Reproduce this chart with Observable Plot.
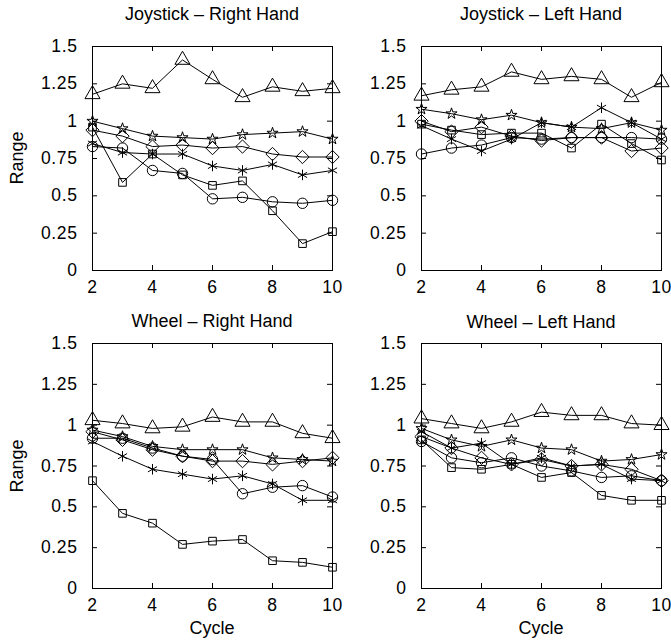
<!DOCTYPE html>
<html>
<head>
<meta charset="utf-8">
<script src="https://cdn.jsdelivr.net/npm/d3@7"></script>
<script src="https://cdn.jsdelivr.net/npm/@observablehq/plot@0.6"></script>
<style>
  html, body { margin: 0; padding: 0; background: white; }
  #chart { position: relative; width: 671px; height: 643px; background: white; overflow: hidden;
           font-family: "Liberation Sans", Arial, sans-serif; color: black; }
  .panel { position: absolute; }
  .panel svg { max-width: none !important; overflow: visible; background: transparent; }
  .lbl { position: absolute; font-size: 18px; white-space: nowrap; line-height: 22px; }
</style>
</head>
<body>
<div id="chart"></div>
<script>
// ---- data ----
const cycles = [2, 3, 4, 5, 6, 7, 8, 9, 10];
const seriesSymbols = ["triangle", "star", "diamond2", "asterisk", "circle", "square"];
const symbolRadius = [5.6, 3.5, 6, 5, 5.2, 4.3];
const xTicks = [2, 4, 6, 8, 10];
const yTicks = [0, 0.25, 0.5, 0.75, 1, 1.25, 1.5];
const panelTitles = ["Joystick \u2013 Right Hand", "Joystick \u2013 Left Hand", "Wheel \u2013 Right Hand", "Wheel \u2013 Left Hand"];

// series order: triangle, star, diamond, asterisk, circle, square
const joystickRight = [
  [1.18, 1.25, 1.22, 1.41, 1.28, 1.16, 1.23, 1.20, 1.22],
  [1.00, 0.95, 0.90, 0.89, 0.88, 0.91, 0.92, 0.93, 0.88],
  [0.94, 0.90, 0.83, 0.84, 0.82, 0.83, 0.78, 0.76, 0.76],
  [0.85, 0.79, 0.78, 0.78, 0.70, 0.67, 0.71, 0.64, 0.67],
  [0.83, 0.82, 0.67, 0.65, 0.48, 0.49, 0.46, 0.45, 0.47],
  [0.96, 0.59, 0.78, 0.64, 0.57, 0.60, 0.40, 0.18, 0.26]
];
const joystickLeft = [
  [1.17, 1.21, 1.23, 1.33, 1.28, 1.30, 1.28, 1.16, 1.26],
  [1.08, 1.05, 1.01, 1.04, 0.99, 0.96, 0.95, 0.99, 0.94],
  [1.00, 0.93, 0.96, 0.90, 0.87, 0.89, 0.89, 0.80, 0.82],
  [0.97, 0.88, 0.80, 0.88, 0.99, 0.96, 1.09, 0.99, 0.88],
  [0.78, 0.82, 0.84, 0.89, 0.88, 0.89, 0.89, 0.89, 0.88],
  [0.98, 0.94, 0.91, 0.92, 0.92, 0.82, 0.98, 0.85, 0.74]
];
const wheelRight = [
  [1.03, 1.01, 0.98, 0.99, 1.05, 1.02, 1.02, 0.95, 0.92],
  [0.97, 0.93, 0.87, 0.85, 0.85, 0.85, 0.80, 0.79, 0.78],
  [0.96, 0.91, 0.85, 0.81, 0.78, 0.78, 0.76, 0.78, 0.80],
  [0.90, 0.81, 0.73, 0.70, 0.67, 0.69, 0.64, 0.54, 0.54],
  [0.92, 0.92, 0.86, 0.81, 0.79, 0.58, 0.62, 0.63, 0.56],
  [0.66, 0.46, 0.40, 0.27, 0.29, 0.30, 0.17, 0.16, 0.13]
];
const wheelLeft = [
  [1.04, 1.01, 0.98, 1.02, 1.08, 1.06, 1.06, 1.01, 1.00],
  [0.98, 0.91, 0.87, 0.91, 0.86, 0.85, 0.78, 0.79, 0.82],
  [0.93, 0.86, 0.80, 0.76, 0.79, 0.75, 0.76, 0.73, 0.66],
  [0.96, 0.86, 0.89, 0.76, 0.80, 0.75, 0.76, 0.67, 0.66],
  [0.90, 0.80, 0.77, 0.80, 0.75, 0.72, 0.68, 0.69, 0.66],
  [0.91, 0.74, 0.73, 0.76, 0.68, 0.71, 0.57, 0.54, 0.54]
];

// ---- layout ----
const chart = document.getElementById("chart");
const FW = 240;
const panels = [
  {data: joystickRight, title: panelTitles[0], left: 0,   top: 0,   W: 345, H: 300, mL: 92, mR: 13, mT: 46, mB: 30, tOff: 43},
  {data: joystickLeft,  title: panelTitles[1], left: 335, top: 0,   W: 336, H: 300, mL: 86, mR: 10, mT: 46, mB: 30, tOff: 43},
  {data: wheelRight,    title: panelTitles[2], left: 0,   top: 300, W: 345, H: 343, mL: 92, mR: 13, mT: 43, mB: 55, tOff: 33},
  {data: wheelLeft,     title: panelTitles[3], left: 335, top: 300, W: 336, H: 343, mL: 86, mR: 10, mT: 43, mB: 55, tOff: 32}
];

function rows(data) {
  const out = [];
  data.forEach((vals, s) => vals.forEach((v, i) => out.push({series: s, symbol: seriesSymbols[s], size: symbolRadius[s], cycle: cycles[i], value: v})));
  return out;
}

panels.forEach((p, k) => {
  const FH = p.H - p.mT - p.mB;
  const table = rows(p.data);
  const plot = Plot.plot({
    width: p.W, height: p.H,
    marginLeft: p.mL, marginRight: p.mR, marginTop: p.mT, marginBottom: p.mB,
    style: {fontFamily: "'Liberation Sans', Arial, sans-serif", fontSize: "17.5px", letterSpacing: "0.6px", color: "black", background: "transparent", overflow: "visible"},
    x: {domain: [2, 10], ticks: xTicks},
    y: {domain: [0, 1.5]},
    r: {type: "identity"},
    symbol: {domain: seriesSymbols, range: seriesSymbols},
    marks: [
      Plot.frame({stroke: "black", strokeWidth: 1}),
      Plot.axisX(xTicks, {tickSize: 0, tickPadding: 10, tickFormat: d => String(d), label: null, fill: "black"}),
      Plot.axisY(yTicks, {tickSize: 0, tickPadding: 15, tickFormat: d => String(d), label: null, fill: "black"}),
      Plot.tickX(xTicks, {x: d => d, insetTop: FH - 5, stroke: "black"}),
      Plot.tickX(xTicks, {x: d => d, insetBottom: FH - 5, stroke: "black"}),
      Plot.tickY(yTicks, {y: d => d, insetRight: FW - 5, stroke: "black"}),
      Plot.tickY(yTicks, {y: d => d, insetLeft: FW - 5, stroke: "black"}),
      Plot.line(table, {x: "cycle", y: "value", z: "series", stroke: "black", strokeWidth: 1}),
      Plot.dot(table, {x: "cycle", y: "value", symbol: "symbol", r: "size", stroke: "black", fill: "none", strokeWidth: 1})
    ]
  });
  const div = document.createElement("div");
  div.className = "panel";
  div.style.left = p.left + "px";
  div.style.top = p.top + "px";
  div.appendChild(plot);
  chart.appendChild(div);

  const fx = p.left + p.mL, fy = p.top + p.mT;
  const t = document.createElement("div");
  t.className = "lbl";
  t.textContent = p.title;
  t.style.left = (fx + FW / 2) + "px";
  t.style.top = (fy - p.tOff) + "px";
  t.style.transform = "translateX(-50%)";
  chart.appendChild(t);

  if (k % 2 === 0) {
    const r = document.createElement("div");
    r.className = "lbl";
    r.textContent = "Range";
    r.style.left = "17px";
    r.style.top = (fy + FH / 2) + "px";
    r.style.transform = "translate(-50%, -50%) rotate(-90deg)";
    chart.appendChild(r);
  }
  if (k >= 2) {
    const c = document.createElement("div");
    c.className = "lbl";
    c.textContent = "Cycle";
    c.style.left = (fx + FW / 2) + "px";
    c.style.top = (fy + FH + 29) + "px";
    c.style.transform = "translateX(-50%)";
    chart.appendChild(c);
  }
});
</script>
</body>
</html>
